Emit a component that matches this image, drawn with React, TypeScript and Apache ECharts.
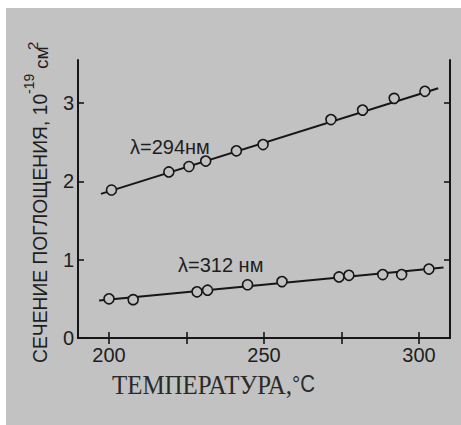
import React, { useEffect, useRef } from "react";
import * as echarts from "echarts";

// Data
const x294 = [200.8, 219.3, 225.8, 231.2, 241.1, 249.7, 271.6, 281.8, 292.0, 301.9];
const y294 = [1.89, 2.12, 2.19, 2.26, 2.39, 2.47, 2.79, 2.91, 3.06, 3.15];
const x312 = [200.0, 207.8, 228.4, 231.8, 244.7, 255.8, 274.2, 277.4, 288.3, 294.4, 303.2];
const y312 = [0.5, 0.49, 0.59, 0.61, 0.68, 0.72, 0.78, 0.8, 0.81, 0.81, 0.88];
const fit294X = [197.4, 306.2];
const fit294Y = [1.84, 3.19];
const fit312X = [196.8, 307.9];
const fit312Y = [0.48, 0.9];
const xTicks = [200, 225, 250, 275, 300];
const xLabels = [200, 250, 300];
const yLabels = [0, 1, 2, 3];
const yRightTicks = [1, 2, 3];
const label294 = "λ=294нм";
const label312 = "λ=312 нм";
const xTitle = "ТЕМПЕРАТУРА,";
const xUnit = "°C";
const yTitleMain = "СЕЧЕНИЕ ПОГЛОЩЕНИЯ, 10";
const yTitleExp = "-19";
const yTitleUnit = "см";
const yTitleUnitExp = "2";

const INK = "#161616";
const BG = "#c2c2c2";
const SANS = "'Liberation Sans Narrow', 'Liberation Sans', Arial, sans-serif";
const SERIF = "'Liberation Serif', 'Times New Roman', serif";

const zip = (xs: number[], ys: number[]) => xs.map((x, i) => [x, ys[i]]);

const vText = (text: string, x: number, y: number, fontSize: number) => ({
  type: "text",
  x,
  y,
  rotation: Math.PI / 2,
  z: 10,
  style: { text, fontSize, fontFamily: SANS, fill: "#1e1e1e", align: "left", verticalAlign: "middle" },
});

export default function App() {
  const ref = useRef<HTMLDivElement>(null);
  useEffect(() => {
    if (!ref.current) return;
    const chart = echarts.init(ref.current, undefined, { renderer: "svg" });
    const axisLine = { show: true, lineStyle: { color: INK, width: 2 } };
    const tickStyle = { color: INK, width: 1.6 };
    chart.setOption({
      animation: false,
      backgroundColor: "#ffffff",
      grid: { left: 78, right: 11, top: 60, bottom: 87, containLabel: false, outerBoundsMode: "none" },
      xAxis: [
        {
          type: "value",
          position: "bottom",
          min: 190,
          max: 310,
          axisLine,
          splitLine: { show: false },
          axisTick: { show: true, inside: true, length: 6, customValues: xTicks, lineStyle: tickStyle },
          axisLabel: {
            customValues: xLabels,
            fontSize: 20,
            color: "#1e1e1e",
            fontFamily: SANS,
            margin: 7,
          },
        },
        {
          type: "value",
          position: "top",
          min: 190,
          max: 310,
          axisLine,
          splitLine: { show: false },
          axisTick: { show: true, inside: true, length: 6, customValues: xTicks, lineStyle: tickStyle },
          axisLabel: { show: false },
        },
      ],
      yAxis: [
        {
          type: "value",
          position: "left",
          min: 0,
          max: 3.55,
          axisLine,
          splitLine: { show: false },
          axisTick: { show: true, inside: true, length: 6, customValues: yLabels, lineStyle: tickStyle },
          axisLabel: {
            customValues: yLabels,
            fontSize: 20,
            color: "#1e1e1e",
            fontFamily: SANS,
            margin: 4,
          },
        },
        {
          type: "value",
          position: "right",
          min: 0,
          max: 3.55,
          axisLine,
          splitLine: { show: false },
          axisTick: { show: true, inside: true, length: 6, customValues: yRightTicks, lineStyle: tickStyle },
          axisLabel: { show: false },
        },
      ],
      graphic: [
        {
          type: "rect",
          z: -10,
          silent: true,
          shape: { x: 6, y: 8, width: 455, height: 417 },
          style: { fill: BG },
        },
        {
          type: "text",
          x: 130,
          y: 147,
          z: 10,
          style: { text: label294, fontSize: 20, fontFamily: SANS, fill: "#1e1e1e", align: "left", verticalAlign: "middle" },
        },
        {
          type: "text",
          x: 178,
          y: 265,
          z: 10,
          style: { text: label312, fontSize: 20, fontFamily: SANS, fill: "#1e1e1e", align: "left", verticalAlign: "middle" },
        },
        {
          type: "text",
          x: 112,
          y: 384,
          scaleX: 0.89,
          z: 10,
          style: {
            text: `{a|${xTitle}}{b|${xUnit}}`,
            align: "left",
            verticalAlign: "middle",
            rich: {
              a: { fontSize: 28, fontFamily: SERIF, fill: "#2a2a2a" },
              b: { fontSize: 23, fontFamily: SANS, fill: "#2a2a2a" },
            },
          },
        },
        vText(yTitleMain, 40, 363, 19.3),
        vText(yTitleExp, 29, 94, 14),
        vText(yTitleUnit, 41, 69, 19),
        vText(yTitleUnitExp, 32, 50, 15),
      ],
      series: [
        {
          type: "line",
          data: zip(fit294X, fit294Y),
          symbol: "none",
          lineStyle: { color: INK, width: 2 },
          z: 2,
        },
        {
          type: "line",
          data: zip(fit312X, fit312Y),
          symbol: "none",
          lineStyle: { color: INK, width: 2 },
          z: 2,
        },
        {
          type: "scatter",
          data: zip(x294, y294),
          symbol: "circle",
          symbolSize: 10,
          itemStyle: { color: BG, borderColor: INK, borderWidth: 1.6, opacity: 1 },
          z: 3,
        },
        {
          type: "scatter",
          data: zip(x312, y312),
          symbol: "circle",
          symbolSize: 10,
          itemStyle: { color: BG, borderColor: INK, borderWidth: 1.6, opacity: 1 },
          z: 3,
        },
      ],
    });
    return () => chart.dispose();
  }, []);
  return (
    <div
      ref={ref}
      style={{ position: "fixed", left: 0, top: 0, width: 461, height: 425 }}
    />
  );
}
